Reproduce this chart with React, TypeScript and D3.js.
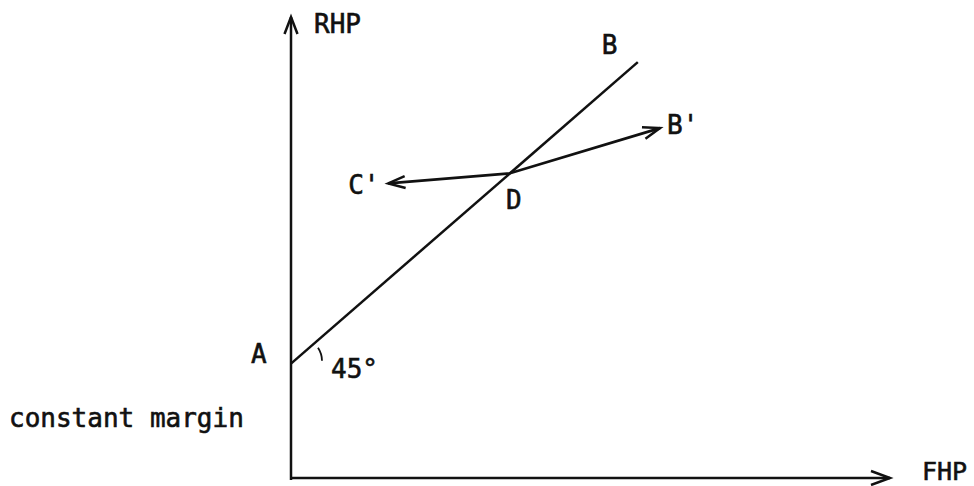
import React, { useEffect, useRef } from "react";
import * as d3 from "d3";

// Diagram coordinates in abstract units (FHP on x, RHP on y)
const pointNames = ["A", "B", "D", "C'", "B'"];
const pointX = [0, 57.8, 36.5, 16.2, 61.5];
const pointY = [24.8, 90.2, 66.1, 63.9, 75.9];

const axisLabels = ["RHP", "FHP"];
const sideLabel = "constant margin";
const angleLabel = "45°";

const W = 974;
const H = 486;

export default function App() {
  const ref = useRef<SVGSVGElement>(null);

  useEffect(() => {
    document.body.style.margin = "0";
    const svg = d3.select(ref.current);
    svg.selectAll("*").remove();

    const x = d3.scaleLinear().domain([0, 100]).range([291, 891]);
    const y = d3.scaleLinear().domain([0, 100]).range([478, 17]);

    const P: Record<string, [number, number]> = {};
    pointNames.forEach((n, i) => (P[n] = [x(pointX[i]), y(pointY[i])]));

    const ink = "#111";
    const line = d3.line<[number, number]>();
    const sw = 2.5;

    const arrowHead = (from: [number, number], tip: [number, number], len: number, spread: number) => {
      const dx = tip[0] - from[0];
      const dy = tip[1] - from[1];
      const L = Math.hypot(dx, dy);
      const ux = dx / L, uy = dy / L;
      const bx = tip[0] - ux * len, by = tip[1] - uy * len;
      const l: [number, number] = [bx - uy * spread, by + ux * spread];
      const r: [number, number] = [bx + uy * spread, by - ux * spread];
      svg.append("path")
        .attr("d", line([l, tip, r]))
        .attr("fill", "none")
        .attr("stroke", ink)
        .attr("stroke-width", sw)
        .attr("stroke-linejoin", "miter");
    };

    const origin: [number, number] = [x(0), y(0)];
    const yTop: [number, number] = [x(0), y(100)];
    const xEnd: [number, number] = [x(100) - 1, y(0)];

    // axes
    svg.append("path").attr("d", line([[x(0), y(0) + 2], yTop])).attr("stroke", ink).attr("stroke-width", sw).attr("fill", "none");
    svg.append("path").attr("d", line([origin, xEnd])).attr("stroke", ink).attr("stroke-width", sw).attr("fill", "none");
    arrowHead(origin, yTop, 17, 6.5);
    arrowHead(origin, xEnd, 19, 7);

    // AB line
    svg.append("path").attr("d", line([P["A"], P["B"]])).attr("stroke", ink).attr("stroke-width", sw).attr("fill", "none");

    // C' - D - B' kinked line
    svg.append("path").attr("d", line([P["C'"], P["D"], P["B'"]])).attr("stroke", ink).attr("stroke-width", 2.7).attr("fill", "none");
    arrowHead(P["D"], P["C'"], 17, 6);
    arrowHead(P["D"], P["B'"], 17, 6);

    // angle tick
    svg.append("path")
      .attr("d", `M${P["A"][0] + 27},${P["A"][1] - 16} q4,6 4,13`)
      .attr("stroke", ink).attr("stroke-width", 1.8).attr("fill", "none");

    const font = "'DejaVu Sans Mono', monospace";
    const txt = (s: string, tx: number, ty: number, fs = 26) =>
      svg.append("text").attr("x", tx).attr("y", ty).text(s)
        .attr("font-family", font).attr("font-size", fs).attr("fill", ink)
        .attr("stroke", ink).attr("stroke-width", 0.6);

    txt(axisLabels[0], 314, 33);
    txt(axisLabels[1], 922, 480, 25);
    txt(sideLabel, 9, 427);
    txt("A", P["A"][0] - 40, P["A"][1] - 1);
    txt(angleLabel, P["A"][0] + 40, P["A"][1] + 14);
    txt("B", P["B"][0] - 36, P["B"][1] - 8);
    txt("B'", P["B'"][0] + 7, P["B'"][1] + 6);
    txt("C'", P["C'"][0] - 40, P["C'"][1] + 11);
    txt("D", P["D"][0] - 4, P["D"][1] + 36);
  }, []);

  return <svg ref={ref} width={W} height={H} style={{ display: "block", background: "#fff" }} />;
}
